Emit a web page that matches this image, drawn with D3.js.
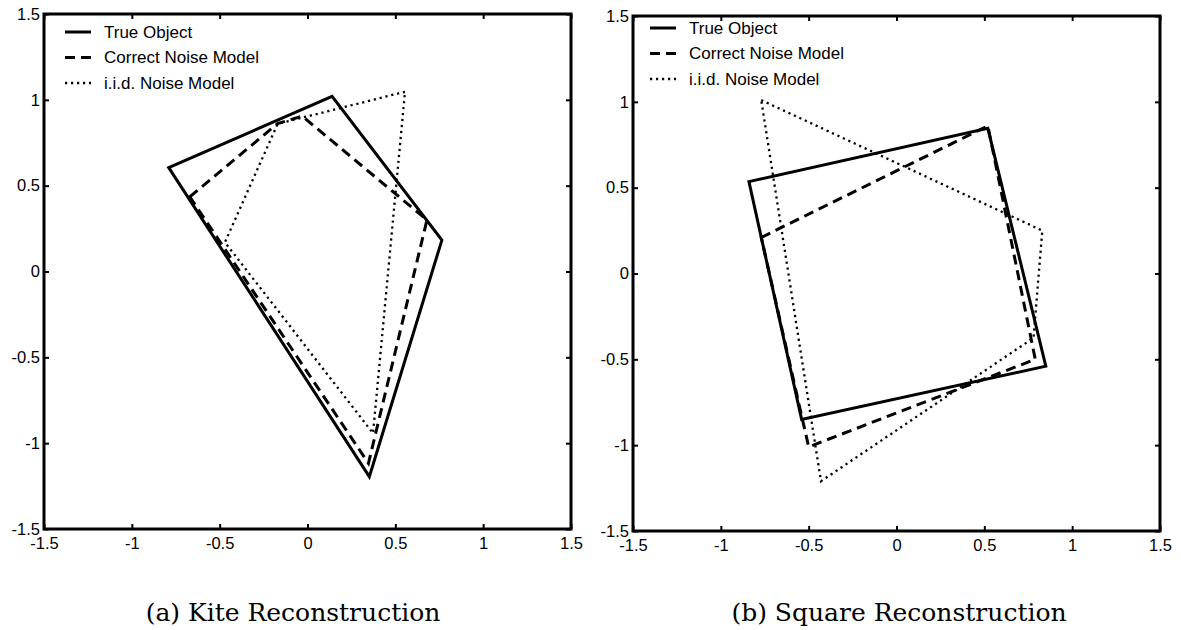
<!DOCTYPE html>
<html>
<head>
<meta charset="utf-8">
<title>Kite and Square Reconstruction</title>
<style>
  body { margin: 0; background: #fff; }
  .frame { fill: none; stroke: #000; stroke-width: 3px; }
  .axis path.domain { display: none; }
  .axis line { stroke: #000; stroke-width: 2px; }
  .axis text { font-family: "Liberation Sans", Arial, sans-serif; font-size: 16.5px; fill: #000; }
  .legend text { font-family: "Liberation Sans", Arial, sans-serif; font-size: 17px; fill: #000; }
  .caption { font-family: "DejaVu Serif", serif; font-size: 25px; fill: #000; text-anchor: middle; }
  .shape { fill: none; stroke: #000; stroke-linejoin: miter; }
</style>
</head>
<body>
<svg width="1181" height="630"></svg>

<script src="https://cdnjs.cloudflare.com/ajax/libs/d3/7.8.5/d3.min.js"></script>
<script>

// tick values and their labels (MATLAB style, plain hyphen)
var tickValues = [-1.5, -1, -0.5, 0, 0.5, 1, 1.5];
var tickLabels = ["-1.5", "-1", "-0.5", "0", "0.5", "1", "1.5"];

var seriesNames = ["True Object", "Correct Noise Model", "i.i.d. Noise Model"];

// (a) kite: polygon vertices [x, y]
var kiteTrue    = [[-0.79, 0.605], [0.14, 1.02], [0.765, 0.183], [0.352, -1.195]];
var kiteCorrect = [[-0.67, 0.435], [-0.17, 0.862], [-0.03, 0.905], [0.68, 0.30], [0.347, -1.117]];
var kiteIid     = [[0.555, 1.047], [-0.17, 0.86], [-0.47, 0.17], [0.373, -0.942]];

// (b) square: polygon vertices [x, y]
var squareTrue    = [[-0.84, 0.535], [0.52, 0.846], [0.85, -0.54], [-0.54, -0.85]];
var squareCorrect = [[-0.77, 0.21], [0.52, 0.86], [0.79, -0.50], [-0.50, -1.01]];
var squareIid     = [[-0.77, 1.01], [0.83, 0.25], [0.78, -0.375], [-0.43, -1.21]];

// line styles for the three series
var styles = [
  { width: 3, dash: null },
  { width: 3, dash: "10,6" },
  { width: 2.3, dash: "2.2,3.8" }
];

var svg = d3.select("svg");
var plotW = 527, plotH = 515;

var panels = [
  { left: 44,  top: 14, caption: "(a) Kite Reconstruction",   captionX: 293, legendX: 21, legendY: 18,
    series: [kiteTrue, kiteCorrect, kiteIid] },
  { left: 633, top: 16, caption: "(b) Square Reconstruction", captionX: 899, legendX: 17, legendY: 12,
    series: [squareTrue, squareCorrect, squareIid] }
];

panels.forEach(function(p) {
  var x = d3.scaleLinear().domain([-1.5, 1.5]).range([0, plotW]);
  var y = d3.scaleLinear().domain([-1.5, 1.5]).range([plotH, 0]);
  var fmt = function(d) { return tickLabels[tickValues.indexOf(d)]; };

  var g = svg.append("g").attr("transform", "translate(" + p.left + "," + p.top + ")");

  // axes, ticks pointing inward on all four sides
  g.append("g").attr("class", "axis")
      .attr("transform", "translate(0," + plotH + ")")
      .call(d3.axisBottom(x).tickValues(tickValues).tickFormat(fmt).tickSize(-5).tickPadding(8));
  g.append("g").attr("class", "axis")
      .call(d3.axisLeft(y).tickValues(tickValues).tickFormat(fmt).tickSize(-5).tickPadding(4));
  g.append("g").attr("class", "axis")
      .call(d3.axisTop(x).tickValues(tickValues).tickFormat("").tickSize(-5));
  g.append("g").attr("class", "axis")
      .attr("transform", "translate(" + plotW + ",0)")
      .call(d3.axisRight(y).tickValues(tickValues).tickFormat("").tickSize(-5));

  g.append("rect").attr("class", "frame")
      .attr("width", plotW).attr("height", plotH);

  var line = d3.line()
      .x(function(d) { return x(d[0]); })
      .y(function(d) { return y(d[1]); })
      .curve(d3.curveLinearClosed);

  g.selectAll("path.shape")
      .data(p.series)
      .enter().append("path")
      .attr("class", "shape")
      .attr("d", line)
      .attr("stroke-width", function(d, i) { return styles[i].width; })
      .attr("stroke-dasharray", function(d, i) { return styles[i].dash; });

  // legend (no box)
  var lg = g.append("g").attr("class", "legend")
      .attr("transform", "translate(" + p.legendX + "," + p.legendY + ")");
  var row = lg.selectAll("g").data(seriesNames).enter().append("g")
      .attr("transform", function(d, i) { return "translate(0," + (i * 25.5) + ")"; });
  row.append("line")
      .attr("x1", 0).attr("x2", 26)
      .attr("stroke", "#000")
      .attr("stroke-width", function(d, i) { return styles[i].width; })
      .attr("stroke-dasharray", function(d, i) { return styles[i].dash; });
  row.append("text")
      .attr("x", 39).attr("dy", "0.35em")
      .text(function(d) { return d; });

  svg.append("text").attr("class", "caption")
      .attr("x", p.captionX).attr("y", 621)
      .text(p.caption);
});

</script>
</body>
</html>
